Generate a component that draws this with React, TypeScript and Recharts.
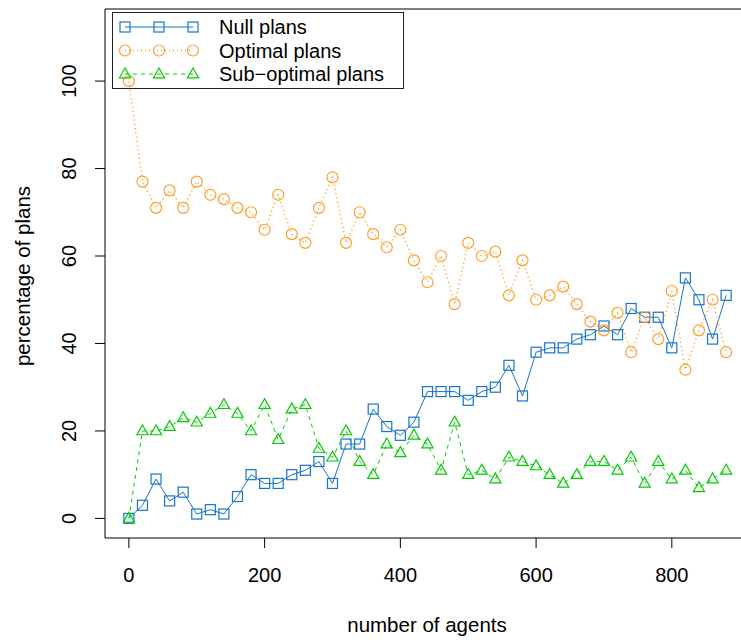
import React from 'react'
import { LineChart, Line, XAxis, YAxis, ReferenceArea } from 'recharts'

// x positions: number of agents
const agents = [
  0, 20, 40, 60, 80, 100, 120, 140, 160, 180, 200, 220, 240, 260, 280, 300,
  320, 340, 360, 380, 400, 420, 440, 460, 480, 500, 520, 540, 560, 580, 600,
  620, 640, 660, 680, 700, 720, 740, 760, 780, 800, 820, 840, 860, 880,
]

// percentage of plans per run, the three series add up to 100
const nullPlans = [
  0, 3, 9, 4, 6, 1, 2, 1, 5, 10, 8, 8, 10, 11, 13, 8, 17, 17, 25, 21, 19, 22,
  29, 29, 29, 27, 29, 30, 35, 28, 38, 39, 39, 41, 42, 44, 42, 48, 46, 46, 39,
  55, 50, 41, 51,
]
const optimalPlans = [
  100, 77, 71, 75, 71, 77, 74, 73, 71, 70, 66, 74, 65, 63, 71, 78, 63, 70, 65,
  62, 66, 59, 54, 60, 49, 63, 60, 61, 51, 59, 50, 51, 53, 49, 45, 43, 47, 38,
  46, 41, 52, 34, 43, 50, 38,
]
const subOptimalPlans = [
  0, 20, 20, 21, 23, 22, 24, 26, 24, 20, 26, 18, 25, 26, 16, 14, 20, 13, 10,
  17, 15, 19, 17, 11, 22, 10, 11, 9, 14, 13, 12, 10, 8, 10, 13, 13, 11, 14, 8,
  13, 9, 11, 7, 9, 11,
]

const xTicks = [0, 200, 400, 600, 800]
const yTicks = [0, 20, 40, 60, 80, 100]
const seriesNames = ['Null plans', 'Optimal plans', 'Sub\u2212optimal plans']

const BLUE = '#1874CD'
const ORANGE = '#FF9F2A'
const GREEN = '#00CD00'
const FONT = '"Liberation Sans", Arial, Helvetica, sans-serif'

// R-style 4% padding around the data range
const X_DOMAIN = [-35.2, 915.2]
const Y_DOMAIN = [-4.48, 116.48]

const data = agents.map((a, i) => ({
  agents: a,
  nul: nullPlans[i],
  opt: optimalPlans[i],
  sub: subOptimalPlans[i],
}))

const Square = ({ cx, cy, color }: any) => (
  <rect x={cx - 5} y={cy - 5} width={10} height={10} fill="none" stroke={color} strokeWidth={1.2} />
)
const Ring = ({ cx, cy, color }: any) => (
  <circle cx={cx} cy={cy} r={5.5} fill="none" stroke={color} strokeWidth={1.2} />
)
const Tri = ({ cx, cy, color }: any) => (
  <polygon
    points={`${cx},${cy - 6} ${cx - 5.6},${cy + 3.8} ${cx + 5.6},${cy + 3.8}`}
    fill="none"
    stroke={color}
    strokeWidth={1.2}
  />
)

const YTick = ({ x, y, payload }: any) => {
  const tx = x - 19
  return (
    <text
      x={tx}
      y={y}
      transform={`rotate(-90 ${tx} ${y})`}
      textAnchor="middle"
      fontSize={20}
      fontFamily={FONT}
      fill="#000"
    >
      {payload.value}
    </text>
  )
}

const legendRows = [
  { name: seriesNames[0], color: BLUE, dash: undefined, Mark: Square },
  { name: seriesNames[1], color: ORANGE, dash: '1 3', Mark: Ring },
  { name: seriesNames[2], color: GREEN, dash: '4 4', Mark: Tri },
]

export default function App() {
  return (
    <div
      style={{
        position: 'absolute',
        left: 0,
        top: 0,
        width: 741,
        height: 640,
        overflow: 'hidden',
        background: '#fff',
        fontFamily: FONT,
      }}
    >
      <LineChart
        width={760}
        height={640}
        data={data}
        margin={{ top: 9, right: 10, bottom: 0, left: 0 }}
      >
        <XAxis
          dataKey="agents"
          type="number"
          domain={X_DOMAIN}
          ticks={xTicks}
          allowDataOverflow
          axisLine={false}
          tickSize={10}
          tickMargin={20}
          tickLine={{ stroke: '#000' }}
          tick={{ fill: '#000', fontSize: 20, fontFamily: FONT }}
          height={102}
        />
        <YAxis
          type="number"
          domain={Y_DOMAIN}
          ticks={yTicks}
          allowDataOverflow
          axisLine={false}
          tickSize={10}
          tickMargin={0}
          tickLine={{ stroke: '#000' }}
          tick={<YTick />}
          width={105}
        />
        <ReferenceArea
          x1={X_DOMAIN[0]}
          x2={X_DOMAIN[1]}
          y1={Y_DOMAIN[0]}
          y2={Y_DOMAIN[1]}
          fill="none"
          stroke="#000"
          strokeWidth={1}
          ifOverflow="visible"
        />
        <Line
          dataKey="nul"
          stroke={BLUE}
          strokeWidth={1}
          isAnimationActive={false}
          dot={(p: any) => <Square key={`n${p.index}`} cx={p.cx} cy={p.cy} color={BLUE} />}
          activeDot={false}
        />
        <Line
          dataKey="opt"
          stroke={ORANGE}
          strokeWidth={1.3}
          strokeDasharray="1.3 3"
          isAnimationActive={false}
          dot={(p: any) => <Ring key={`o${p.index}`} cx={p.cx} cy={p.cy} color={ORANGE} />}
          activeDot={false}
        />
        <Line
          dataKey="sub"
          stroke={GREEN}
          strokeWidth={1}
          strokeDasharray="4 4"
          isAnimationActive={false}
          dot={(p: any) => <Tri key={`s${p.index}`} cx={p.cx} cy={p.cy} color={GREEN} />}
          activeDot={false}
        />
      </LineChart>

      {/* legend box, top left inside the plot, no background so marks show through */}
      <svg
        width={741}
        height={100}
        style={{ position: 'absolute', left: 0, top: 0, pointerEvents: 'none' }}
      >
        <rect x={112.5} y={12.5} width={291} height={76} fill="none" stroke="#222" strokeWidth={1} />
        {legendRows.map((r, i) => {
          const y = 27 + i * 23.5
          return (
            <g key={r.name}>
              <line
                x1={125}
                x2={193}
                y1={y}
                y2={y}
                stroke={r.color}
                strokeWidth={r.dash === '1 3' ? 1.3 : 1}
                strokeDasharray={r.dash}
              />
              {[125, 159, 193].map((x) => (
                <r.Mark key={x} cx={x} cy={y} color={r.color} />
              ))}
              <text x={219} y={y} dy="0.36em" fontSize={20} fontFamily={FONT} fill="#000">
                {r.name}
              </text>
            </g>
          )
        })}
      </svg>

      <div
        style={{
          position: 'absolute',
          left: 427,
          top: 625,
          transform: 'translate(-50%, -50%)',
          fontSize: 20.5,
          whiteSpace: 'nowrap',
          color: '#000',
        }}
      >
        number of agents
      </div>
      <div
        style={{
          position: 'absolute',
          left: 23,
          top: 276,
          transform: 'translate(-50%, -50%) rotate(-90deg)',
          fontSize: 20.5,
          whiteSpace: 'nowrap',
          color: '#000',
        }}
      >
        percentage of plans
      </div>
    </div>
  )
}
